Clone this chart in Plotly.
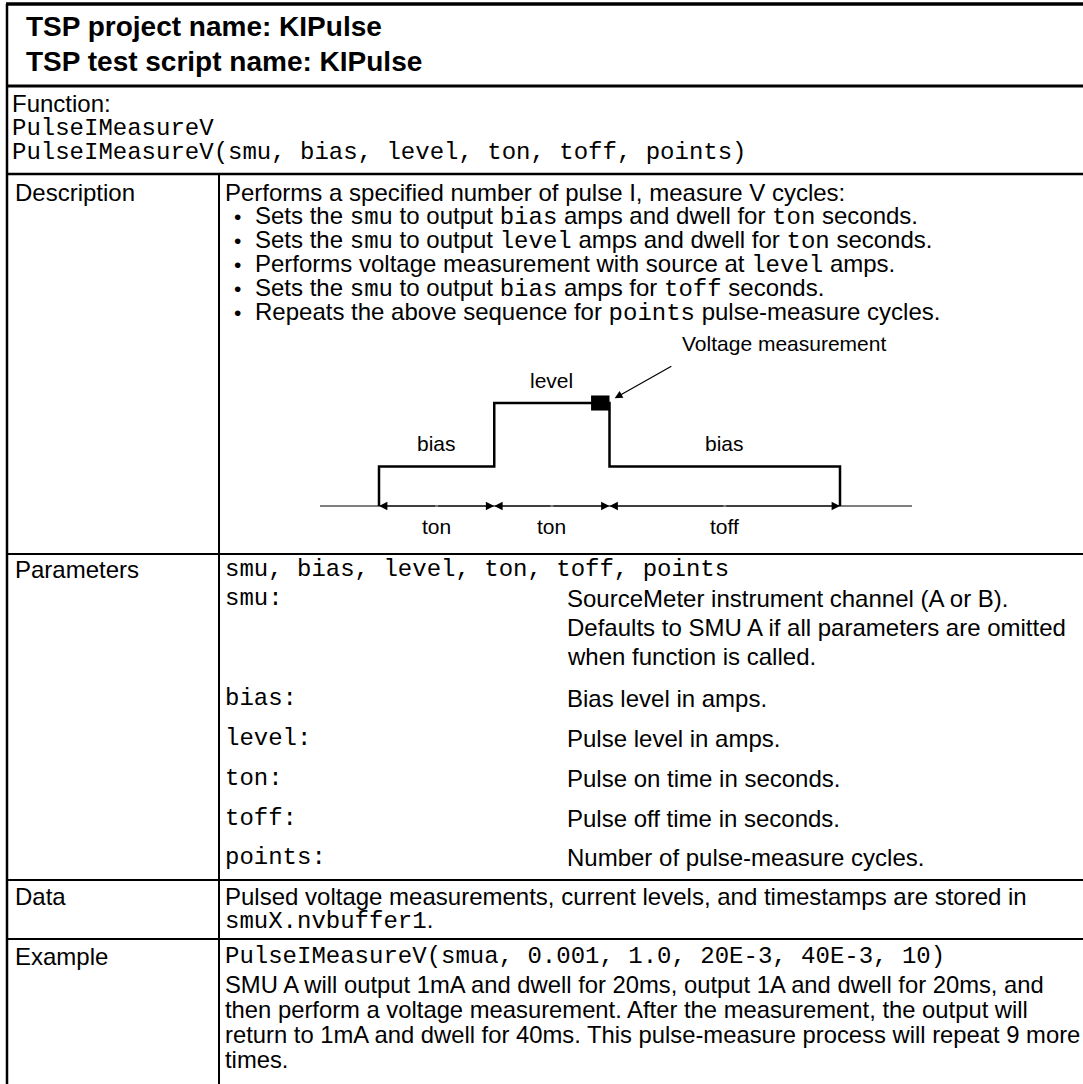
import plotly.graph_objects as go

W, H = 1083, 1084
SANS = "Liberation Sans, Arial, Helvetica, sans-serif"
MONO = "Liberation Mono"
BLACK = "#000000"
FS = 24       # body font size
FM = 24       # mono font size
FE = 23.8     # example paragraph font size

# ---------------- data / texts ----------------
title_lines = ["TSP project name: KIPulse", "TSP test script name: KIPulse"]
function_label = "Function:"
function_name = "PulseIMeasureV"
function_sig = "PulseIMeasureV(smu, bias, level, ton, toff, points)"
row_labels = ["Description", "Parameters", "Data", "Example"]


def m(s):
    return '<span style="font-family:%s">%s</span>' % (MONO, s)


desc_intro = "Performs a specified number of pulse I, measure V cycles:"
desc_bullets = [
    "Sets the " + m("smu") + " to output " + m("bias") + " amps and dwell for " + m("ton") + " seconds.",
    "Sets the " + m("smu") + " to output " + m("level") + " amps and dwell for " + m("ton") + " seconds.",
    "Performs voltage measurement with source at " + m("level") + " amps.",
    "Sets the " + m("smu") + " to output " + m("bias") + " amps for " + m("toff") + " seconds.",
    "Repeats the above sequence for " + m("points") + " pulse-measure cycles.",
]

param_header = "smu, bias, level, ton, toff, points"
param_names = ["smu:", "bias:", "level:", "ton:", "toff:", "points:"]
param_descs = [
    ["SourceMeter instrument channel (A or B).",
     "Defaults to SMU A if all parameters are omitted",
     "when function is called."],
    ["Bias level in amps."],
    ["Pulse level in amps."],
    ["Pulse on time in seconds."],
    ["Pulse off time in seconds."],
    ["Number of pulse-measure cycles."],
]
data_lines = ["Pulsed voltage measurements, current levels, and timestamps are stored in",
              m("smuX.nvbuffer1") + "."]
example_code = "PulseIMeasureV(smua, 0.001, 1.0, 20E-3, 40E-3, 10)"
example_lines = ["SMU A will output 1mA and dwell for 20ms, output 1A and dwell for 20ms, and",
                 "then perform a voltage measurement. After the measurement, the output will",
                 "return to 1mA and dwell for 40ms. This pulse-measure process will repeat 9 more",
                 "times."]

# waveform diagram (time in ms, levels diagrammatic)
segment_names = ["ton", "ton", "toff"]
segment_ms = [20, 20, 40]
segment_levels = ["bias", "level", "bias"]
level_values = {"bias": 1.0, "level": 2.6}
measure_label = "Voltage measurement"

# ---------------- layout (pixel positions) ----------------
X_LEFT, X_DIV, X_RIGHT = 7, 219, 1090
Y_TOP, Y_TITLE, Y_FUNC, Y_PARAM, Y_DATA, Y_EX, Y_BOT = 4, 86, 174, 554, 880, 939, 1090
TX_L, TX_R, TX_P = 10, 223, 565

fig = go.Figure()
shapes = []
ann = []


def hline(y, x0, x1, w):
    shapes.append(dict(type="line", xref="x", yref="y", x0=x0, x1=x1, y0=y, y1=y,
                       line=dict(color=BLACK, width=w)))


def vline(x, y0, y1, w):
    shapes.append(dict(type="line", xref="x", yref="y", x0=x, x1=x, y0=y0, y1=y1,
                       line=dict(color=BLACK, width=w)))


def txt(x, y, s, size=FS, fam=SANS, anchor="left"):
    ann.append(dict(xref="x", yref="y", x=x, y=y, text=s, showarrow=False,
                    xanchor=anchor, yanchor="middle",
                    font=dict(family=fam, size=size, color=BLACK)))


hline(Y_TOP, X_LEFT - 1, X_RIGHT, 3.5)
hline(Y_TITLE, X_LEFT, X_RIGHT, 3)
hline(Y_FUNC, X_LEFT, X_RIGHT, 2.5)
hline(Y_PARAM, X_LEFT, X_RIGHT, 2)
hline(Y_DATA, X_LEFT, X_RIGHT, 2)
hline(Y_EX, X_LEFT, X_RIGHT, 2)
vline(X_LEFT, Y_TOP, Y_BOT, 2.5)
vline(X_DIV, Y_FUNC, Y_BOT, 2)

# title
for y, s in zip([26, 61], title_lines):
    txt(X_LEFT + 17, y, "<b>" + s + "</b>", size=28)

# function block
txt(TX_L, 103, function_label)
txt(TX_L, 128, function_name, fam=MONO, size=FM)
txt(TX_L, 152, function_sig, fam=MONO, size=FM)

# row labels
for y, s in zip([192, 569, 896, 956], row_labels):
    txt(TX_L + 3, y, s)

# description
txt(TX_R, 192, desc_intro)
for i, s in enumerate(desc_bullets):
    y = 216 + 24 * i
    txt(TX_R + 9, y, "•", size=21)
    txt(TX_R + 30, y, s)

# parameters
txt(TX_R, 569, param_header, fam=MONO, size=FM)
param_y = [598, 698, 738, 778, 818, 857]
for name, descs, y in zip(param_names, param_descs, param_y):
    txt(TX_R, y, name, fam=MONO, size=FM)
    for j, d in enumerate(descs):
        txt(TX_P, y + 29 * j, d)

# data
for j, s in enumerate(data_lines):
    txt(TX_R, 896 + 24 * j, s)

# example
txt(TX_R, 956, example_code, fam=MONO, size=FM)
for j, s in enumerate(example_lines):
    txt(TX_R, 984 + 25 * j, s, size=FE)

# ---------------- waveform diagram on its own axes ----------------
t_edges = [0]
for d in segment_ms:
    t_edges.append(t_edges[-1] + d)
wx, wy = [t_edges[0]], [0]
for i, lv in enumerate(segment_levels):
    v = level_values[lv]
    wx += [t_edges[i], t_edges[i + 1]]
    wy += [v, v]
wx.append(t_edges[-1]); wy.append(0)

fig.add_trace(go.Scatter(x=wx, y=wy, mode="lines", line=dict(color=BLACK, width=2.5),
                         xaxis="x2", yaxis="y2", hoverinfo="skip", showlegend=False))

lvl = level_values["level"]
t_meas = t_edges[2]
shapes.append(dict(type="rect", xref="x2", yref="y2", x0=t_meas - 3.2, x1=t_meas,
                   y0=lvl - 0.19, y1=lvl + 0.19, fillcolor=BLACK, line=dict(width=0)))
# baseline
shapes.append(dict(type="line", xref="x2 domain", yref="y2", x0=0, x1=1, y0=0, y1=0,
                   line=dict(color=BLACK, width=1.2)))

# level labels, segment labels and dimension arrows
for i, lv in enumerate(segment_levels):
    mid = (t_edges[i] + t_edges[i + 1]) / 2
    ann.append(dict(xref="x2", yref="y2", x=mid, y=level_values[lv], text=lv, showarrow=False,
                    yshift=23, font=dict(family=SANS, size=21, color=BLACK)))
    ann.append(dict(xref="x2", yref="y2", x=mid, y=0, text=segment_names[i], showarrow=False,
                    yshift=-20, font=dict(family=SANS, size=21, color=BLACK)))
    for end in (t_edges[i], t_edges[i + 1]):
        ann.append(dict(xref="x2", yref="y2", x=end, y=0, ax=mid, ay=0, axref="x2", ayref="y2",
                        text="", showarrow=True, arrowhead=2, arrowsize=1.4, arrowwidth=1.2,
                        arrowcolor=BLACK, standoff=0, startstandoff=0))

# measurement arrow + label
ann.append(dict(xref="x2", yref="y2", x=t_meas + 0.9, y=lvl + 0.12, ax=t_meas + 11, ay=lvl + 0.95,
                axref="x2", ayref="y2", text="", showarrow=True, arrowhead=2, arrowsize=1.3,
                arrowwidth=1.2, arrowcolor=BLACK, standoff=0))
ann.append(dict(xref="x2", yref="y2", x=t_meas + 12.3, y=lvl + 1.5, text=measure_label,
                showarrow=False, xanchor="left", yanchor="middle",
                font=dict(family=SANS, size=21, color=BLACK)))

# axes: main pixel frame + diagram frame
px_per_ms = 5.7625
x_t0 = 379
x2_range = [(320 - x_t0) / px_per_ms, (912 - x_t0) / px_per_ms]
y_base, y_level_px = 506, 403
px_per_unit = (y_base - y_level_px) / level_values["level"]
y2_top_px, y2_bot_px = 300, 550
y2_range = [(y_base - y2_bot_px) / px_per_unit, (y_base - y2_top_px) / px_per_unit]

hidden = dict(visible=False, showgrid=False, zeroline=False, fixedrange=True)
fig.update_layout(
    width=W, height=H, margin=dict(l=0, r=0, t=0, b=0),
    paper_bgcolor="white", plot_bgcolor="white", showlegend=False,
    xaxis=dict(range=[0, W], domain=[0, 1], **hidden),
    yaxis=dict(range=[H, 0], domain=[0, 1], **hidden),
    xaxis2=dict(range=x2_range, domain=[320 / W, 912 / W], anchor="y2", **hidden),
    yaxis2=dict(range=y2_range, domain=[1 - y2_bot_px / H, 1 - y2_top_px / H], anchor="x2", **hidden),
    shapes=shapes, annotations=ann,
)

fig.write_html("out.html", config={"displayModeBar": False},
               post_script="document.body.style.margin='0';document.body.style.overflow='hidden';")
